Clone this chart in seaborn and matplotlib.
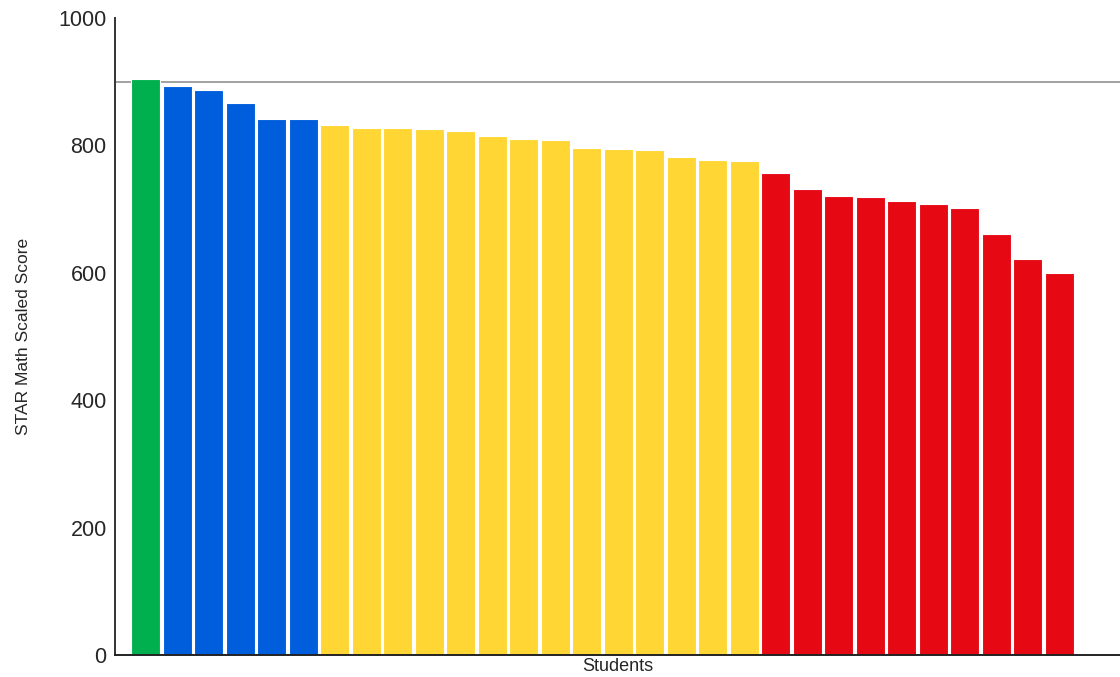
import pandas as pd
import seaborn as sns
import matplotlib.pyplot as plt

# puntajes, de mayor a menor
scores = [905, 893, 887, 867, 841, 841,
          832, 828, 828, 825, 822, 814, 810, 808, 796, 795, 793, 782, 777, 775,
          757, 732, 721, 719, 713, 708, 701, 661, 622, 599]
groups = (['green'] * 1 + ['blue'] * 5 + ['yellow'] * 14 + ['red'] * 10)
group_colors = {'green': '#00B04F', 'blue': '#005EDC',
                'yellow': '#FFD633', 'red': '#E60813'}
benchmark = 900

sns.set_style('white')
plt.rcParams['font.family'] = ['Liberation Sans', 'DejaVu Sans']

df = pd.DataFrame({'student': [str(i) for i in range(len(scores))],
                   'score': scores,
                   'group': groups})

fig = plt.figure(figsize=(11.2, 6.77), dpi=100)
ax = fig.add_axes([115 / 1120, 22 / 677, 1005 / 1120, 637 / 677])

sns.barplot(data=df, x='student', y='score', hue='group', palette=group_colors,
            dodge=False, legend=False, width=0.93, saturation=1,
            edgecolor='white', linewidth=0.8, ax=ax)

ax.axhline(benchmark, color='#9a9a9a', linewidth=1.3, zorder=0)

ax.set_ylim(0, 1000)
ax.set_xlim(-0.973, 30.93)
ax.set_yticks([0, 200, 400, 600, 800, 1000])
ax.set_xticks([])
ax.tick_params(axis='y', length=0, labelsize=15.5, pad=6)
ax.set_ylabel('STAR Math Scaled Score', fontsize=12.5, labelpad=20)
ax.set_xlabel('Students', fontsize=13, labelpad=2)

sns.despine(ax=ax, top=True, right=True)
ax.spines['left'].set_color('#333333')
ax.spines['left'].set_linewidth(1.4)
ax.spines['bottom'].set_color('#222222')
ax.spines['bottom'].set_linewidth(1.4)

fig.savefig('out.png', dpi=100)
